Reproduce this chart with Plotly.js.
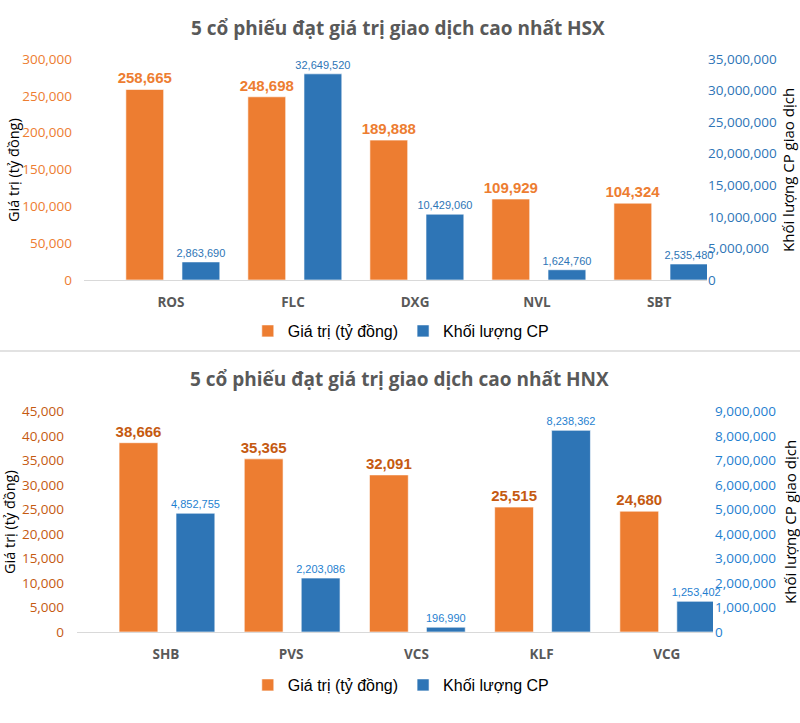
<!DOCTYPE html>
<html>
<head>
<meta charset="utf-8">
<script src="https://cdn.plot.ly/plotly-3.0.1.min.js"></script>
<style>html,body{margin:0;padding:0;background:#fff;}#chart{width:800px;height:723px;}</style>
</head>
<body>
<div id="chart"></div>
<script>
// ---- Data ----
const hsxTitle = "5 cổ phiếu đạt giá trị giao dịch cao nhất HSX";
const hnxTitle = "5 cổ phiếu đạt giá trị giao dịch cao nhất HNX";
const hsxStocks = ["ROS", "FLC", "DXG", "NVL", "SBT"];
const hsxValue = [258665, 248698, 189888, 109929, 104324];       // Giá trị (tỷ đồng)
const hsxVolume = [2863690, 32649520, 10429060, 1624760, 2535480]; // Khối lượng CP
const hnxStocks = ["SHB", "PVS", "VCS", "KLF", "VCG"];
const hnxValue = [38666, 35365, 32091, 25515, 24680];
const hnxVolume = [4852755, 2203086, 196990, 8238362, 1253402];
const seriesNames = ["Giá trị (tỷ đồng)", "Khối lượng CP"];
const leftAxisTitle = "Giá trị (tỷ đồng)";
const rightAxisTitle = "Khối lượng CP giao dịch";

// ---- Styles ----
const ORANGE = "#ED7D31", BLUE = "#2E75B6";
const NARROW = "Liberation Sans Narrow, Arial Narrow, Liberation Sans, sans-serif";
const SANS = "Open Sans, Segoe UI, sans-serif";
const H = 723, W = 800;
const py = v => 1 - v / H;
const px = v => v / W;

function bar(x, y, name, color, xa, ya, offset, labelColor, labelSize, bold, legend) {
  return {
    type: "bar", x: x, y: y, name: name, xaxis: xa, yaxis: ya,
    offset: offset, width: 0.31,
    marker: {color: color, line: {color: "rgba(255,255,255,0.6)", width: 1}},
    texttemplate: bold ? "<b>%{y:,}</b>" : "%{y:,}",
    textposition: "outside", constraintext: "none", cliponaxis: false,
    textfont: {family: NARROW, size: labelSize, color: labelColor},
    legend: legend, showlegend: true, hoverinfo: "skip"
  };
}

const data = [
  bar(hsxStocks, hsxValue, seriesNames[0], ORANGE, "x", "y", -0.37, ORANGE, 15, true, "legend"),
  bar(hsxStocks, hsxVolume, seriesNames[1], BLUE, "x", "y2", 0.09, BLUE, 11, false, "legend"),
  bar(hnxStocks, hnxValue, seriesNames[0], ORANGE, "x2", "y3", -0.375, "#C55A11", 15, true, "legend2"),
  bar(hnxStocks, hnxVolume, seriesNames[1], BLUE, "x2", "y4", 0.08, "#1F7FD0", 11, false, "legend2")
];

const xCommon = {
  type: "category", showline: true, linecolor: "#D9D9D9", linewidth: 1,
  showgrid: false, zeroline: false, ticks: "", ticklabelstandoff: 10,
  tickfont: {family: SANS, size: 13.5, color: "#595959", weight: "bold"}
};
const yCommon = {
  showgrid: false, zeroline: false, showline: false, ticks: "",
  tickformat: ",d"
};

const legendCommon = {orientation: "h", x: 0.501, xanchor: "center", yanchor: "middle",
  font: {family: NARROW, size: 16, color: "#000"}, itemwidth: 30, tracegroupgap: 0, bgcolor: "rgba(0,0,0,0)"};

const layout = {
  width: W, height: H,
  margin: {l: 0, r: 0, t: 0, b: 0},
  paper_bgcolor: "#fff", plot_bgcolor: "rgba(0,0,0,0)",
  barmode: "group", separators: ".,",
  font: {family: SANS},
  xaxis: Object.assign({}, xCommon, {domain: [px(84), px(707)], anchor: "y", range: [-0.713, 4.393]}),
  yaxis: Object.assign({}, yCommon, {domain: [py(280), py(59)], anchor: "x", range: [0, 300000], dtick: 50000,
    ticklabelstandoff: 11, tickfont: {family: SANS, size: 13.5, color: ORANGE}}),
  yaxis2: Object.assign({}, yCommon, {overlaying: "y", side: "right", anchor: "x", range: [0, 35000000], dtick: 5000000,
    ticklabelstandoff: 0, tickfont: {family: SANS, size: 13.5, color: BLUE}}),
  xaxis2: Object.assign({}, xCommon, {domain: [px(77), px(713)], anchor: "y3", range: [-0.711, 4.369]}),
  yaxis3: Object.assign({}, yCommon, {domain: [py(632), py(411.7)], anchor: "x2", range: [0, 45000], dtick: 5000,
    ticklabelstandoff: 12, tickfont: {family: SANS, size: 13.5, color: "#C55A11"}}),
  yaxis4: Object.assign({}, yCommon, {overlaying: "y3", side: "right", anchor: "x2", range: [0, 9000000], dtick: 1000000,
    ticklabelstandoff: 1, tickfont: {family: SANS, size: 13.5, color: "#1F7FD0"}}),
  legend: Object.assign({}, legendCommon, {y: py(331)}),
  legend2: Object.assign({}, legendCommon, {y: py(685)}),
  annotations: [
    {text: "<b>" + hsxTitle + "</b>", xref: "paper", yref: "paper", x: px(398), y: py(28), xanchor: "center", yanchor: "middle",
      showarrow: false, font: {family: SANS, size: 19, color: "#595959"}},
    {text: "<b>" + hnxTitle + "</b>", xref: "paper", yref: "paper", x: px(399), y: py(379), xanchor: "center", yanchor: "middle",
      showarrow: false, font: {family: SANS, size: 19, color: "#595959"}},
    {text: leftAxisTitle, xref: "paper", yref: "paper", x: px(13), y: py(170), textangle: -90, xanchor: "center", yanchor: "middle",
      showarrow: false, font: {family: SANS, size: 14.5, color: "#000"}},
    {text: rightAxisTitle, xref: "paper", yref: "paper", x: px(788), y: py(170), textangle: -90, xanchor: "center", yanchor: "middle",
      showarrow: false, font: {family: SANS, size: 15, color: "#000"}},
    {text: leftAxisTitle, xref: "paper", yref: "paper", x: px(9), y: py(522), textangle: -90, xanchor: "center", yanchor: "middle",
      showarrow: false, font: {family: SANS, size: 14.5, color: "#000"}},
    {text: rightAxisTitle, xref: "paper", yref: "paper", x: px(790), y: py(522), textangle: -90, xanchor: "center", yanchor: "middle",
      showarrow: false, font: {family: SANS, size: 15, color: "#000"}}
  ],
  shapes: [
    {type: "line", xref: "paper", yref: "paper", x0: 0, x1: 1, y0: py(351), y1: py(351),
      line: {color: "#D9D9D9", width: 1.5}}
  ]
};

Plotly.newPlot("chart", data, layout, {displayModeBar: false, staticPlot: true});
</script>
</body>
</html>
